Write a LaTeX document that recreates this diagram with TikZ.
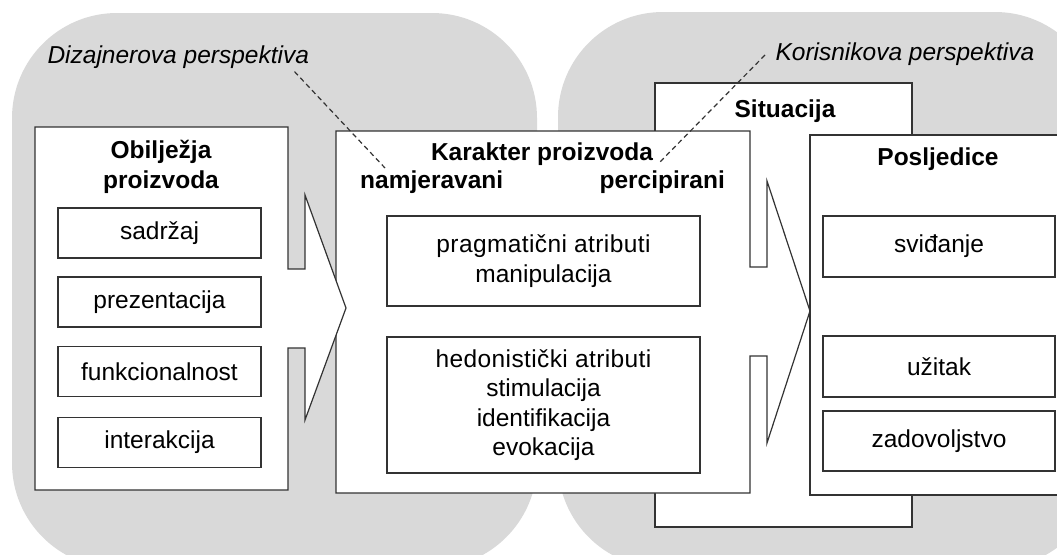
\documentclass[tikz,border=0pt]{standalone}
\usepackage{fontspec}
\setmainfont{Liberation Sans}
\definecolor{bggray}{HTML}{D9D9D9}
\definecolor{edgegray}{HTML}{333333}
\newcommand{\labelsize}{\fontsize{24.5}{29.5}\selectfont}
\newcommand{\spaced}{\addfontfeatures{LetterSpace=1.6}}
\tikzset{
  panel/.style={fill=bggray, rounded corners=105pt},
  bigframe/.style={draw=edgegray, line width=1.2pt, fill=white},
  itembox/.style={draw=edgegray, line width=1.2pt, fill=white, inner sep=0pt,
    align=center, font=\labelsize},
  leftitem/.style={itembox, minimum width=203pt, minimum height=50pt},
  attrbox/.style={itembox, minimum width=313pt},
  resultbox/.style={itembox, minimum width=232pt, minimum height=61pt},
  heading/.style={font=\labelsize\bfseries, align=center, inner sep=0pt},
  persp/.style={font=\labelsize\itshape},
  guide/.style={draw=edgegray, line width=1.2pt, dash pattern=on 5pt off 3.5pt}
}
\begin{document}
\begin{tikzpicture}[x=1pt, y=-1pt]
  \useasboundingbox (0,0) rectangle (1057,554);
  \clip (0,0) rectangle (1057,554);
  % grey panels
  \fill[panel] (12,13) rectangle (537,568);
  \fill[panel] (558,12) rectangle (1100,568);
  % Situacija, behind the others
  \draw[bigframe] (655,83) rectangle (912,527);
  \node[heading, anchor=base] (situacija) at (785,117) {Situacija};
  % Karakter proizvoda, arrow into Posljedice
  \draw[bigframe] (336,131) -- (750,131) -- (750,267) -- (767,267) -- (767,181)
    -- (810,311) -- (767,443) -- (767,356) -- (750,356) -- (750,493)
    -- (336,493) -- cycle;
  \node[heading, anchor=base] (karakter) at (542,160) {Karakter proizvoda};
  \node[heading, anchor=base west] (namjeravani) at (360,188) {namjeravani};
  \node[heading, anchor=base east] (percipirani) at (725,188) {percipirani};
  \node[attrbox, minimum height=90pt] (pragmaticni) at (543.5,261)
    {{\spaced pragmatični atributi}\\manipulacija};
  \node[attrbox, minimum height=136pt] (hedonisticki) at (543.5,405)
    {{\spaced hedonistički atributi}\\stimulacija\\identifikacija\\evokacija};
  % Posljedice
  \draw[bigframe] (810,135) rectangle (1100,495);
  \node[heading, anchor=base] (posljedice) at (938,165) {Posljedice};
  \node[resultbox] (svidanje) at (939,246.5) {sviđanje};
  \node[resultbox] (uzitak) at (939,366.5) {užitak};
  \node[resultbox, minimum height=60pt] (zadovoljstvo) at (939,441) {zadovoljstvo};
  % Obilježja proizvoda, arrow into Karakter
  \draw[bigframe] (35,127) -- (288,127) -- (288,269) -- (305,269) -- (305,195)
    -- (346,308) -- (305,420) -- (305,348) -- (288,348) -- (288,490)
    -- (35,490) -- cycle;
  \node[heading] (obiljezja) at (161,167) {Obilježja\\proizvoda};
  \node[leftitem] (sadrzaj) at (159.5,233) {sadržaj};
  \node[leftitem] (prezentacija) at (159.5,302) {prezentacija};
  \node[leftitem] (funkcionalnost) at (159.5,371.5) {funkcionalnost};
  \node[leftitem] (interakcija) at (159.5,442.5) {interakcija};
  % perspectives
  \node[persp, anchor=base west] (dizajner) at (44,63) {Dizajnerova perspektiva};
  \node[persp, anchor=base west] (korisnik) at (772,60) {Korisnikova perspektiva};
  \coordinate (dizend) at (385,168);
  \coordinate (korend) at (658,164);
  \draw[guide] ([xshift=-18pt]dizajner.south east) -- (dizend);
  \draw[guide] ([xshift=-7pt,yshift=5pt]korisnik.base west) -- (korend);
\end{tikzpicture}
\end{document}
